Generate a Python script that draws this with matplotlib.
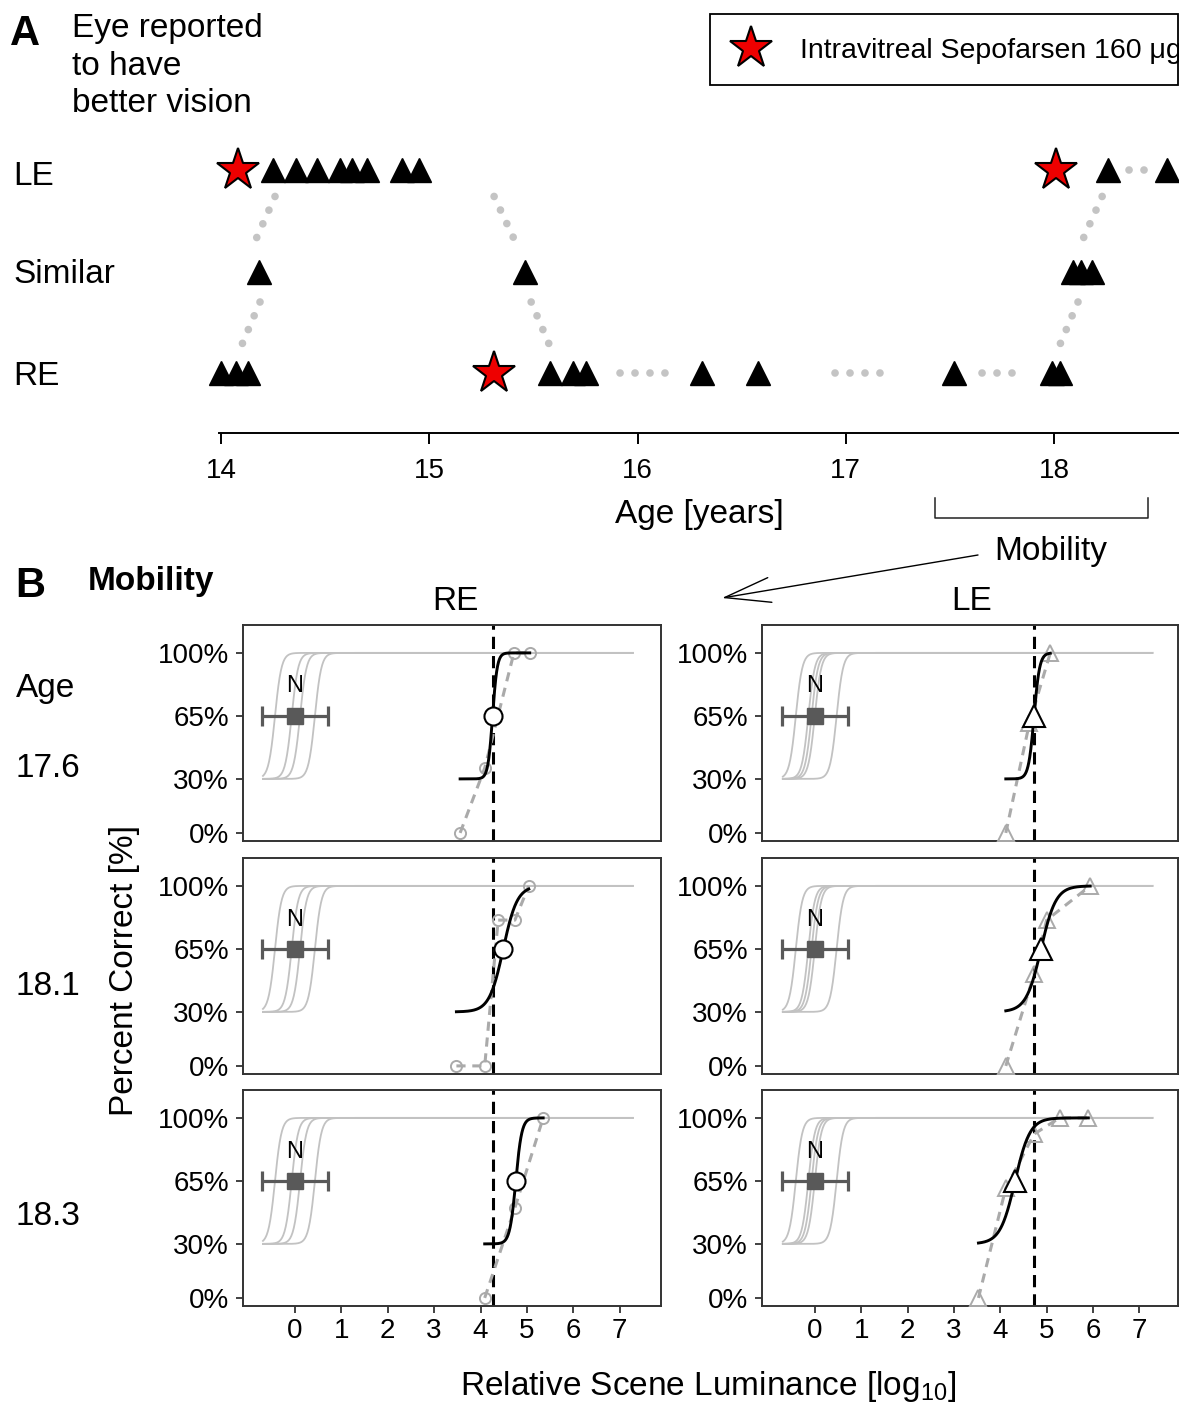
import numpy as np
import matplotlib
matplotlib.use("Agg")
import matplotlib.pyplot as plt
import matplotlib.transforms as mtransforms
from matplotlib.patches import Rectangle, FancyArrowPatch
from matplotlib.lines import Line2D

plt.rcParams["font.family"] = ["Liberation Sans", "DejaVu Sans"]
plt.rcParams["mathtext.fontset"] = "custom"
plt.rcParams["mathtext.rm"] = "Liberation Sans"
plt.rcParams["mathtext.it"] = "Liberation Sans:italic"

W, H = 1179, 1405

# ============================================================
# Panel A data: which eye was reported to see better, by age
# ============================================================
row_names = ["RE", "Similar", "LE"]          # y = 1, 2, 3
le_visits = [14.25, 14.36, 14.46, 14.57, 14.63, 14.70, 14.87, 14.95, 18.26, 18.54]
similar_visits = [14.18, 15.46, 18.09, 18.13, 18.18]
re_visits = [14.00, 14.07, 14.13, 15.58, 15.69, 15.75, 16.31, 16.58, 17.52, 17.99, 18.03]
injection_age = [14.08, 15.31, 18.01]
injection_row = [3, 1, 3]

# dotted connectors between reports (age/row start -> age/row end)
conn_age0 = [14.259, 14.187, 15.311, 15.489, 15.916, 16.948, 17.654, 18.231, 18.115, 18.360]
conn_row0 = [2.74, 1.70, 2.74, 1.70, 1.0, 1.0, 1.0, 2.74, 1.70, 3.0]
conn_age1 = [14.168, 14.096, 15.407, 15.580, 16.156, 17.188, 17.861, 18.139, 18.024, 18.440]
conn_row1 = [2.32, 1.26, 2.32, 1.26, 1.0, 1.0, 1.0, 2.32, 1.26, 3.0]

age_ticks = [14, 15, 16, 17, 18]
mobility_span = [17.43, 18.45]

# ============================================================
# Panel B data: mobility test, percent correct vs luminance
# ============================================================
visit_ages = ["17.6", "18.1", "18.3"]
lum_ticks = [0, 1, 2, 3, 4, 5, 6, 7]
pc_ticks = [0, 30, 65, 100]
pc_labels = ["0%", "30%", "65%", "100%"]

normal_mid_re = [-0.43, -0.07, 0.11, 0.43]
normal_mid_le = [-0.41, -0.14, -0.07, 0.0, 0.47]
normal_slope = 0.07
normal_range = [-0.69, 7.28]
normal_mean = 0.0
normal_sd = 0.71

re_lum = [[3.56, 4.09, 4.72, 5.06],
          [3.48, 4.09, 4.38, 4.74, 5.04],
          [4.09, 4.74, 5.35]]
re_pc = [[0, 36, 100, 100],
         [0, 0, 81, 81, 100],
         [0, 50, 100]]
re_thr = [4.26, 4.49, 4.76]
re_slope = [0.05, 0.15, 0.065]

le_lum = [[4.12, 4.63, 5.08],
          [4.12, 4.73, 5.00, 5.94],
          [3.53, 4.12, 4.73, 5.28, 5.90]]
le_pc = [[0, 61, 100],
         [0, 51, 81, 100],
         [0, 61, 91, 100, 100]]
le_thr = [4.73, 4.88, 4.32]
le_slope = [0.06, 0.16, 0.16]


def psy(x, mid, slope):
    # psychometric fit, 30% guess rate up to 100%
    return 30 + 70 / (1 + np.exp(-(x - mid) / slope))


def fx(px):
    return px / W


def fy(py):
    return 1 - py / H


fig = plt.figure(figsize=(W / 100, H / 100), dpi=100)


def put(xp, yp, s, **kw):
    kw.setdefault("va", "baseline")
    fig.text(fx(xp), fy(yp), s, **kw)


# ============================================================
# PANEL A
# ============================================================
ax_a = fig.add_axes([fx(219), fy(433), fx(1179) - fx(219), (433 - 140) / H])
ax_a.set_xlim(13.990, 18.600)
ax_a.set_ylim(0.409, 3.296)
for s in ["top", "left", "right"]:
    ax_a.spines[s].set_visible(False)
ax_a.spines["bottom"].set_linewidth(1.4)
ax_a.set_yticks([])
ax_a.set_xticks(age_ticks)
ax_a.tick_params(axis="x", length=8, width=1.4, pad=10, labelsize=20)

for a0, r0, a1, r1 in zip(conn_age0, conn_row0, conn_age1, conn_row1):
    ax_a.plot([a0, a1], [r0, r1], color="#c4c4c4", lw=5.5,
              linestyle=(0, (0.01, 1.95)), dash_capstyle="round",
              solid_capstyle="round", zorder=1)

tri = dict(marker="^", ms=17, color="black", linestyle="none", clip_on=False, zorder=3)
ax_a.plot(le_visits, [3] * len(le_visits), **tri)
ax_a.plot(similar_visits, [2] * len(similar_visits), **tri)
ax_a.plot(re_visits, [1] * len(re_visits), **tri)
ax_a.plot(injection_age, injection_row, marker="*", ms=32, mfc="#ee0000",
          mec="black", mew=1.5, linestyle="none", clip_on=False, zorder=4)

put(10, 45, "A", fontsize=30, fontweight="bold")
put(72, 37, "Eye reported", fontsize=24)
put(72, 75, "to have", fontsize=24)
put(72, 112, "better vision", fontsize=24)
put(13, 185, "LE", fontsize=24)
put(13, 283, "Similar", fontsize=24)
put(13, 385, "RE", fontsize=24)
put(699, 523, "Age [years]", fontsize=24, ha="center")

# legend box
fig.add_artist(Rectangle((fx(710), fy(85)), fx(1178) - fx(710), (85 - 14) / H,
                         transform=fig.transFigure, fill=False, ec="black", lw=1.3))
fig.add_artist(Line2D([fx(751)], [fy(48)], marker="*", ms=32, mfc="#ee0000",
                      mec="black", mew=1.5, transform=fig.transFigure))
put(800, 58, "Intravitreal Sepofarsen 160 \u03bcg", fontsize=20.5)

# mobility bracket + arrow
btr = mtransforms.blended_transform_factory(ax_a.transData, fig.transFigure)
m0, m1 = mobility_span
fig.add_artist(Line2D([m0, m0, m1, m1], [fy(498), fy(518), fy(518), fy(498)],
                      transform=btr, color="#222222", lw=1.1))
put(994, 560, "Mobility", fontsize=24)
fig.add_artist(FancyArrowPatch((fx(978), fy(555)), (fx(722), fy(598)),
                               transform=fig.transFigure,
                               arrowstyle="->,head_length=3.3,head_width=0.9",
                               mutation_scale=10, lw=1.0, color="black",
                               shrinkA=0, shrinkB=0))

# ============================================================
# PANEL B
# ============================================================
put(15, 597, "B", fontsize=30, fontweight="bold")
put(88, 590, "Mobility", fontsize=24, fontweight="bold")
put(455, 610, "RE", fontsize=24, ha="center")
put(972, 610, "LE", fontsize=24, ha="center")
put(16, 697, "Age", fontsize=24)
for lab, yb in zip(visit_ages, [777, 995, 1225]):
    put(16, yb, lab, fontsize=24)
fig.text(fx(125), fy(970), "Percent Correct [%]", fontsize=24, rotation=90,
         ha="center", va="center")
put(708, 1395, "Relative Scene Luminance [log$_{10}$]", fontsize=24, ha="center")

col_left = [243, 762]
col_width = [418, 416]
col_xlim = [(-1.12, 7.89), (-1.14, 7.835)]
row_top = [625, 858, 1090]
row_h = 216

eyes = [
    (re_lum, re_pc, re_thr, re_slope, normal_mid_re, "o", 8, 13),
    (le_lum, le_pc, le_thr, le_slope, normal_mid_le, "^", 11, 16),
]

for c, (lum, pc, thr, slope, nmid, mk, ms_small, ms_big) in enumerate(eyes):
    for r in range(3):
        ax = fig.add_axes([fx(col_left[c]), fy(row_top[r] + row_h),
                           col_width[c] / W, row_h / H])
        ax.set_xlim(*col_xlim[c])
        ax.set_ylim(-4.5, 115.5)
        for s in ax.spines.values():
            s.set_linewidth(1.4)
            s.set_color("#333333")
        ax.set_yticks(pc_ticks)
        ax.set_yticklabels(pc_labels)
        ax.tick_params(axis="y", length=5, width=1.3, color="#333333",
                       pad=5, labelsize=20)
        if r == 2:
            ax.set_xticks(lum_ticks)
            ax.tick_params(axis="x", length=5, width=1.3, color="#333333",
                           pad=4, labelsize=20)
        else:
            ax.set_xticks([])

        # normally sighted reference curves
        xn = np.linspace(normal_range[0], normal_range[1], 600)
        for m in nmid:
            ax.plot(xn, psy(xn, m, normal_slope), color="#c2c2c2", lw=1.3, zorder=1)
        ax.errorbar([normal_mean], [65], xerr=[normal_sd], marker="s", ms=11,
                    color="#595959", elinewidth=2.3, capsize=7, capthick=2.3, zorder=3)
        ax.text(normal_mean, 78, "N", fontsize=17, ha="center", va="baseline", zorder=3)

        # baseline threshold
        ax.axvline(thr[0], color="black", lw=2.2, linestyle=(0, (4.0, 2.3)), zorder=2)

        # raw data
        ax.plot(lum[r], pc[r], color="#aaaaaa", lw=2.2, linestyle=(0, (3, 2.2)),
                marker=mk, ms=ms_small, mfc="none", mec="#aaaaaa", mew=1.4,
                clip_on=False, zorder=4)

        # fitted curve and threshold
        xf = np.linspace(min(lum[r]), max(lum[r]), 300)
        ax.plot(xf, psy(xf, thr[r], slope[r]), color="black", lw=2.1, zorder=5)
        ax.plot([thr[r]], [65], marker=mk, ms=ms_big, mfc="white", mec="black",
                mew=1.5, linestyle="none", zorder=6)

fig.savefig("out.png", dpi=100)
